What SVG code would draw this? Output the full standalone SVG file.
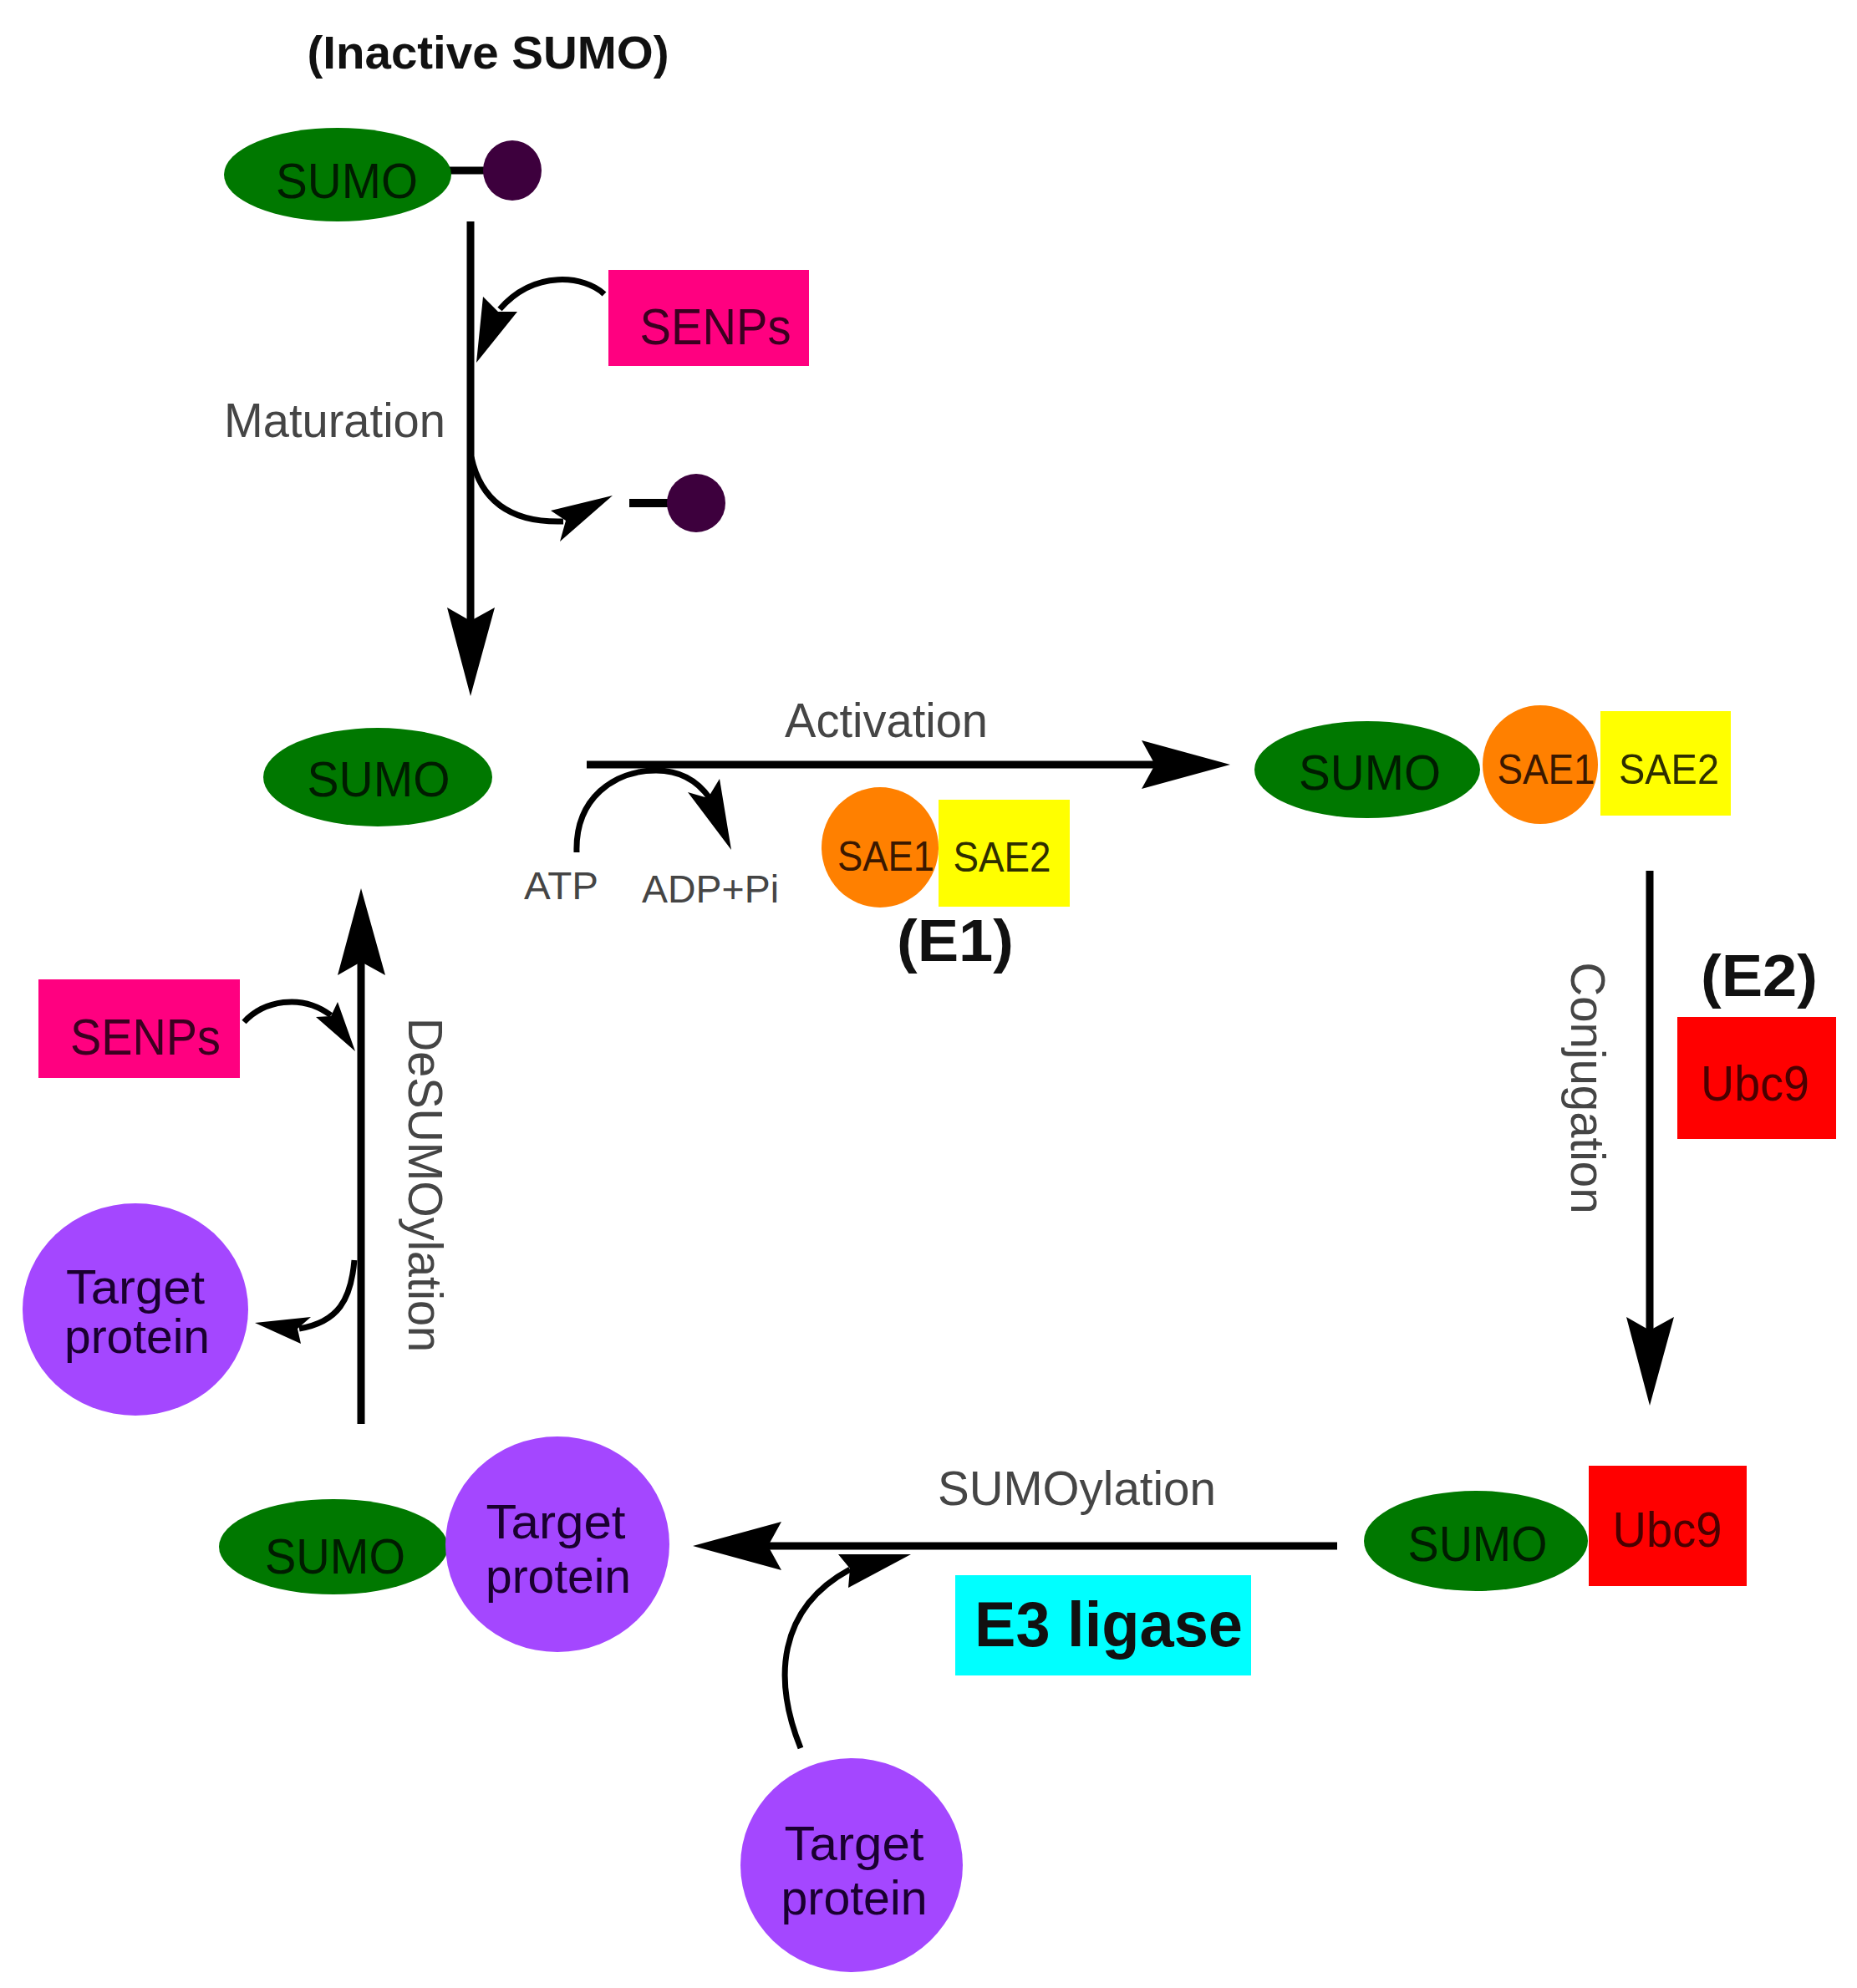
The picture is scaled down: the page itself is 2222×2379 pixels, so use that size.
<svg xmlns="http://www.w3.org/2000/svg" width="2222" height="2379" viewBox="0 0 2222 2379">
<style>
  text { font-family: "Liberation Sans", Arial, Helvetica, sans-serif; }
  .lbl { font-size: 57px; fill: #454545; }
  .small { font-size: 46px; fill: #454545; }
  .bold { font-weight: bold; fill: #111; }
  .sumo { fill: #007800; }
  .sumot { font-size: 60px; fill: #001c00; text-anchor: middle; }
  .dot { fill: #3d003d; }
  .senp { fill: #ff0080; }
  .senpt { font-size: 62px; fill: #3a0020; text-anchor: middle; }
  .sae1 { fill: #ff8000; }
  .sae1t { font-size: 50px; fill: #3a1800; text-anchor: middle; }
  .sae2 { fill: #ffff00; }
  .sae2t { font-size: 50px; fill: #2e2e00; text-anchor: middle; }
  .ubc { fill: #ff0000; }
  .ubct { font-size: 60px; fill: #4a0000; text-anchor: middle; }
  .tgt { fill: #a447ff; }
  .tgtt { font-size: 58px; fill: #1a0030; text-anchor: middle; }
  .e3 { fill: #00ffff; }
  .line { stroke: #000; stroke-width: 9; fill: none; }
  .curve { stroke: #000; stroke-width: 7; fill: none; }
  .head { fill: #000; }
</style>

<text id="title" class="bold" x="584" y="82" font-size="56" text-anchor="middle" textLength="433" lengthAdjust="spacingAndGlyphs">(Inactive SUMO)</text>

<g id="connectors">
  <!-- Maturation -->
  <line class="line" x1="563" y1="265" x2="563" y2="745"/>
  <polygon class="head" points="563,833 535,727 563,743 592,727"/>
  <!-- SENPs to maturation -->
  <path class="curve" d="M723,352 C700,330 640,322 598,370"/>
  <polygon class="head" points="570,434 578,355 596,373 619,373"/>
  <!-- release of propeptide -->
  <path class="curve" d="M564,547 C575,598 610,626 674,624"/>
  <polygon class="head" points="733,593 659,611 677,623 670,648"/>
  <!-- Activation -->
  <line class="line" x1="702" y1="915" x2="1385" y2="915"/>
  <polygon class="head" points="1472,915 1366,886 1382,915 1366,944"/>
  <!-- ATP -> ADP+Pi -->
  <path class="curve" d="M690,1020 C688,955 735,922 785,922 C815,922 835,935 849,955"/>
  <polygon class="head" points="875,1017 823,948 847,955 861,932"/>
  <!-- Conjugation -->
  <line class="line" x1="1974" y1="1042" x2="1974" y2="1595"/>
  <polygon class="head" points="1974,1682 1946,1576 1974,1592 2003,1576"/>
  <!-- SUMOylation -->
  <line class="line" x1="1600" y1="1850" x2="915" y2="1850"/>
  <polygon class="head" points="829,1850 935,1821 919,1850 935,1879"/>
  <!-- Target protein -> SUMOylation -->
  <path class="curve" d="M958,2092 C925,2010 930,1925 1017,1878"/>
  <polygon class="head" points="1090,1860 1003,1860 1017,1877 1015,1900"/>
  <!-- DeSUMOylation -->
  <line class="line" x1="432" y1="1704" x2="432" y2="1150"/>
  <polygon class="head" points="432,1063 404,1167 432,1151 461,1167"/>
  <!-- SENPs to DeSUMOylation -->
  <path class="curve" d="M292,1223 C315,1198 360,1188 396,1215"/>
  <polygon class="head" points="425,1258 378,1217 396,1216 404,1199"/>
  <!-- release of target protein -->
  <path class="curve" d="M424,1508 C420,1555 405,1582 358,1590"/>
  <polygon class="head" points="305,1583 372,1576 356,1590 360,1608"/>
</g>

<g id="inactive-sumo">
  <line x1="535" y1="204" x2="582" y2="204" stroke="#000" stroke-width="9"/>
  <ellipse class="sumo" cx="404" cy="209" rx="136" ry="56"/>
  <ellipse class="dot" cx="613" cy="204" rx="35" ry="36"/>
  <text class="sumot" x="415" y="237" textLength="170" lengthAdjust="spacingAndGlyphs">SUMO</text>
</g>

<g id="senps-top">
  <rect class="senp" x="728" y="323" width="240" height="115"/>
  <text class="senpt" x="856" y="412" textLength="181" lengthAdjust="spacingAndGlyphs">SENPs</text>
</g>

<g id="label-maturation">
  <text class="lbl" x="268" y="523" textLength="265" lengthAdjust="spacingAndGlyphs">Maturation</text>
</g>

<g id="propeptide">
  <line x1="753" y1="602" x2="800" y2="602" stroke="#000" stroke-width="10"/>
  <circle class="dot" cx="833" cy="602" r="35"/>
</g>

<g id="sumo-mature">
  <ellipse class="sumo" cx="452" cy="930" rx="137" ry="59"/>
  <text class="sumot" x="453" y="953" textLength="171" lengthAdjust="spacingAndGlyphs">SUMO</text>
</g>

<g id="label-activation">
  <text class="lbl" x="939" y="882" textLength="243" lengthAdjust="spacingAndGlyphs">Activation</text>
</g>

<g id="atp-labels">
  <text class="small" x="627" y="1076" textLength="89" lengthAdjust="spacingAndGlyphs">ATP</text>
  <text class="small" x="768" y="1080" textLength="164" lengthAdjust="spacingAndGlyphs">ADP+Pi</text>
</g>

<g id="e1">
  <ellipse class="sae1" cx="1053" cy="1014" rx="70" ry="72"/>
  <rect class="sae2" x="1123" y="957" width="157" height="128"/>
  <text class="sae1t" x="1060" y="1042" textLength="116" lengthAdjust="spacingAndGlyphs">SAE1</text>
  <text class="sae2t" x="1199" y="1043" textLength="117" lengthAdjust="spacingAndGlyphs">SAE2</text>
  <text class="bold" x="1143" y="1150" font-size="70" text-anchor="middle" textLength="140" lengthAdjust="spacingAndGlyphs">(E1)</text>
</g>

<g id="sumo-e1">
  <ellipse class="sumo" cx="1636" cy="921" rx="135" ry="58"/>
  <ellipse class="sae1" cx="1843" cy="915" rx="69" ry="71"/>
  <rect class="sae2" x="1915" y="851" width="156" height="125"/>
  <text class="sumot" x="1639" y="945" textLength="170" lengthAdjust="spacingAndGlyphs">SUMO</text>
  <text class="sae1t" x="1850" y="938" textLength="117" lengthAdjust="spacingAndGlyphs">SAE1</text>
  <text class="sae2t" x="1997" y="938" textLength="120" lengthAdjust="spacingAndGlyphs">SAE2</text>
</g>

<g id="label-conjugation">
  <text class="lbl" transform="translate(1880,1302) rotate(90)" text-anchor="middle" textLength="301" lengthAdjust="spacingAndGlyphs">Conjugation</text>
</g>

<g id="e2">
  <text class="bold" x="2105" y="1192" font-size="70" text-anchor="middle" textLength="140" lengthAdjust="spacingAndGlyphs">(E2)</text>
  <rect class="ubc" x="2007" y="1217" width="190" height="146"/>
  <text class="ubct" x="2100" y="1317" textLength="130" lengthAdjust="spacingAndGlyphs">Ubc9</text>
</g>

<g id="sumo-ubc9">
  <ellipse class="sumo" cx="1766" cy="1844" rx="134" ry="60"/>
  <rect class="ubc" x="1901" y="1754" width="189" height="144"/>
  <text class="sumot" x="1768" y="1868" textLength="167" lengthAdjust="spacingAndGlyphs">SUMO</text>
  <text class="ubct" x="1995" y="1851" textLength="131" lengthAdjust="spacingAndGlyphs">Ubc9</text>
</g>

<g id="label-sumoylation">
  <text class="lbl" x="1122" y="1801" textLength="333" lengthAdjust="spacingAndGlyphs">SUMOylation</text>
</g>

<g id="e3">
  <rect class="e3" x="1143" y="1885" width="354" height="120"/>
  <text class="bold" x="1166" y="1970" font-size="76" textLength="321" lengthAdjust="spacingAndGlyphs" fill="#000">E3 ligase</text>
</g>

<g id="target-bottom">
  <ellipse class="tgt" cx="1019" cy="2232" rx="133" ry="128"/>
  <text class="tgtt" x="1022" y="2226" textLength="167" lengthAdjust="spacingAndGlyphs">Target</text>
  <text class="tgtt" x="1022" y="2291" textLength="175" lengthAdjust="spacingAndGlyphs">protein</text>
</g>

<g id="sumo-target">
  <ellipse class="sumo" cx="399" cy="1851" rx="137" ry="57"/>
  <ellipse class="tgt" cx="667" cy="1848" rx="134" ry="129"/>
  <text class="sumot" x="401" y="1883" textLength="168" lengthAdjust="spacingAndGlyphs">SUMO</text>
  <text class="tgtt" x="665" y="1841" textLength="167" lengthAdjust="spacingAndGlyphs">Target</text>
  <text class="tgtt" x="668" y="1906" textLength="174" lengthAdjust="spacingAndGlyphs">protein</text>
</g>

<g id="label-desumoylation">
  <text class="lbl" transform="translate(489,1418) rotate(90)" text-anchor="middle" textLength="400" lengthAdjust="spacingAndGlyphs">DeSUMOylation</text>
</g>

<g id="senps-left">
  <rect class="senp" x="46" y="1172" width="241" height="118"/>
  <text class="senpt" x="174" y="1262" textLength="180" lengthAdjust="spacingAndGlyphs">SENPs</text>
</g>

<g id="target-left">
  <ellipse class="tgt" cx="162" cy="1567" rx="135" ry="127"/>
  <text class="tgtt" x="162" y="1560" textLength="166" lengthAdjust="spacingAndGlyphs">Target</text>
  <text class="tgtt" x="164" y="1619" textLength="174" lengthAdjust="spacingAndGlyphs">protein</text>
</g>
</svg>
